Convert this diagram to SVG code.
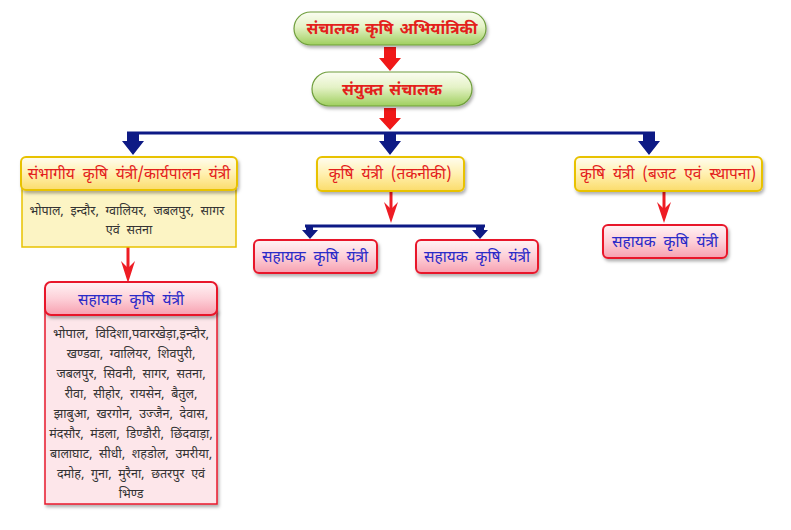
<svg xmlns="http://www.w3.org/2000/svg" width="791" height="530" viewBox="0 0 791 530">
<defs>
<linearGradient id="gGreen" x1="0" y1="0" x2="0" y2="1">
<stop offset="0" stop-color="#fbfdf2"/><stop offset="0.45" stop-color="#e4f2c6"/><stop offset="1" stop-color="#9fcf5e"/>
</linearGradient>
<linearGradient id="gYellow" x1="0" y1="0" x2="0" y2="1">
<stop offset="0" stop-color="#fffdf0"/><stop offset="0.5" stop-color="#fff0b0"/><stop offset="1" stop-color="#fbdc6a"/>
</linearGradient>
<linearGradient id="gPink" x1="0" y1="0" x2="0" y2="1">
<stop offset="0" stop-color="#fff3f5"/><stop offset="0.5" stop-color="#fdd0d8"/><stop offset="1" stop-color="#f7a0b0"/>
</linearGradient>
<filter id="sh" x="-10%" y="-10%" width="125%" height="140%">
<feDropShadow dx="1.5" dy="2.5" stdDeviation="1.5" flood-color="#000" flood-opacity="0.3"/>
</filter>
</defs>
<style>
text{font-family:"Noto Sans Devanagari","Noto Sans","Lohit Devanagari",sans-serif;text-anchor:middle}
.t{fill:#e3201b;font-size:16px;font-weight:bold;word-spacing:2px}
.ty{fill:#e3201b;font-size:15.5px;word-spacing:4px}
.tp{fill:#2a2ac8;font-size:15.5px;word-spacing:4px}
.tb{fill:#333;font-size:12.5px;word-spacing:3.5px}
.green{fill:url(#gGreen);stroke:#6f9e3c;stroke-width:1.2;filter:url(#sh)}
.yel{fill:url(#gYellow);stroke:#e8c200;stroke-width:2;filter:url(#sh)}
.ybody{fill:#fcf4c4;stroke:#e8c200;stroke-width:1.5}
.pink{fill:url(#gPink);stroke:#e8192c;stroke-width:2;filter:url(#sh)}
.pbody{fill:#fde6ea;stroke:#e8192c;stroke-width:1.5;filter:url(#sh)}
.rblock{fill:#f01818}
.blue{stroke:#0d1a85;stroke-width:3;fill:none}
.bhead{fill:#0d1a85}
.rline{stroke:#ee1c24;stroke-width:3;fill:none}
.rhead{fill:#ee1c24}
</style>
<g id="connectors">
<polygon class="rblock" points="384,47 396,47 396,58 401,58 390,71 379,58 384,58"/>
<polygon class="rblock" points="384,108 396,108 396,118 401,118 390,130 379,118 384,118"/>
<path class="blue" d="M127,133 H655"/>
<polygon class="bhead" points="127,133 139,133 139,141 144,141 133,155 122,141 127,141"/>
<polygon class="bhead" points="384,133 396,133 396,141 401,141 390,155 379,141 384,141"/>
<polygon class="bhead" points="643,133 655,133 655,141 660,141 649,155 638,141 643,141"/>
<path class="rline" d="M391,192 V212"/>
<polygon class="rhead" points="391,223 384,202 391,209 398,202"/>
<path class="blue" d="M305,226 H485"/>
<polygon class="bhead" points="306,226 313,226 313,230 318,230 310,239 302,230 306,230"/>
<polygon class="bhead" points="476,226 484,226 484,230 488,230 480,239 472,230 476,230"/>
<path class="rline" d="M664,191 V212"/>
<polygon class="rhead" points="664,223 657,202 664,209 671,202"/>
<path class="rline" d="M128,247 V272"/>
<polygon class="rhead" points="128,283 121,261 128,268 135,261"/>
</g>
<g id="n1">
<rect class="green" x="294" y="12" width="192" height="33" rx="16.5"/>
<text class="t" x="392" y="34">संचालक कृषि अभियांत्रिकी</text>
</g>
<g id="n2">
<rect class="green" x="312" y="72" width="160" height="34" rx="17"/>
<text class="t" x="392" y="95">संयुक्त संचालक</text>
</g>
<g id="n3">
<rect class="ybody" x="22" y="185" width="214" height="62"/>
<rect class="yel" x="21" y="157" width="216" height="33" rx="5"/>
<text class="ty" x="129" y="179">संभागीय कृषि यंत्री/कार्यपालन यंत्री</text>
<text class="tb" x="127" y="215">भोपाल, इन्दौर, ग्वालियर, जबलपुर, सागर</text>
<text class="tb" x="129" y="234">एवं सतना</text>
</g>
<g id="n4">
<rect class="yel" x="317" y="157" width="147" height="34" rx="5"/>
<text class="ty" x="390" y="179">कृषि यंत्री (तकनीकी)</text>
</g>
<g id="n5">
<rect class="yel" x="575" y="157" width="187" height="34" rx="5"/>
<text class="ty" x="668" y="179">कृषि यंत्री (बजट एवं स्थापना)</text>
</g>
<g id="n6">
<rect class="pink" x="254" y="240" width="123" height="33" rx="5"/>
<text class="tp" x="315" y="262">सहायक कृषि यंत्री</text>
</g>
<g id="n7">
<rect class="pink" x="416" y="240" width="122" height="33" rx="5"/>
<text class="tp" x="477" y="262">सहायक कृषि यंत्री</text>
</g>
<g id="n8">
<rect class="pink" x="603" y="225" width="124" height="33" rx="5"/>
<text class="tp" x="665" y="247">सहायक कृषि यंत्री</text>
</g>
<g id="n9">
<rect class="pbody" x="45" y="310" width="172" height="194"/>
<rect class="pink" x="45" y="282" width="172" height="33" rx="6"/>
<text class="tp" x="131" y="305">सहायक कृषि यंत्री</text>
<text class="tb" x="131" y="338" textLength="156" lengthAdjust="spacingAndGlyphs">भोपाल, विदिशा,पवारखेड़ा,इन्दौर,</text>
<text class="tb" x="131" y="358">खण्डवा, ग्वालियर, शिवपुरी,</text>
<text class="tb" x="131" y="378">जबलपुर, सिवनी, सागर, सतना,</text>
<text class="tb" x="131" y="398">रीवा, सीहोर, रायसेन, बैतुल,</text>
<text class="tb" x="131" y="418">झाबुआ, खरगोन, उज्जैन, देवास,</text>
<text class="tb" x="131" y="438">मंदसौर, मंडला, डिण्डौरी, छिंदवाड़ा,</text>
<text class="tb" x="131" y="458">बालाघाट, सीधी, शहडोल, उमरीया,</text>
<text class="tb" x="131" y="478">दमोह, गुना, मुरैना, छतरपुर एवं</text>
<text class="tb" x="131" y="498">भिण्ड</text>
</g>
</svg>
